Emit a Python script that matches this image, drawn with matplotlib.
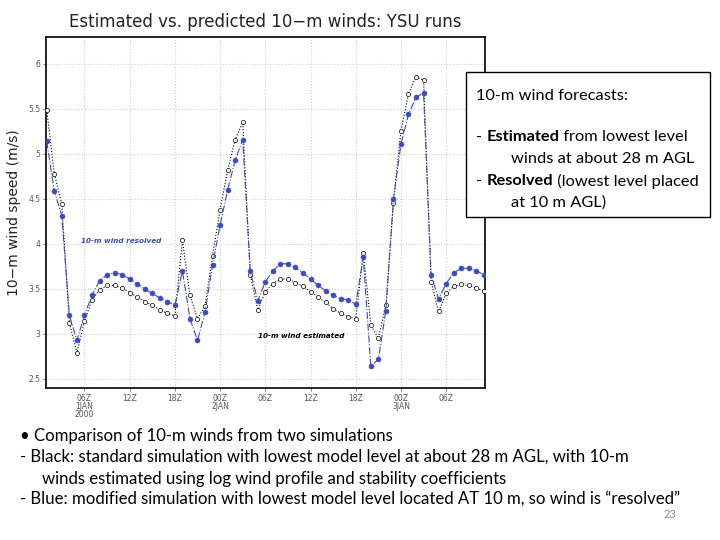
import matplotlib
matplotlib.use('Agg')
import matplotlib.pyplot as plt
from matplotlib.patches import Rectangle

# Données : vent à 10 m, une valeur par heure (heures depuis 00Z 1 JAN 2000)
hours = list(range(1, 60))
resolved = [5.14, 4.59, 4.31, 3.21, 2.93, 3.21, 3.43, 3.59, 3.66, 3.68,
            3.66, 3.61, 3.56, 3.50, 3.45, 3.40, 3.36, 3.32, 3.70, 3.17,
            2.93, 3.24, 3.77, 4.21, 4.60, 4.93, 5.16, 3.70, 3.37, 3.58,
            3.70, 3.78, 3.78, 3.74, 3.68, 3.61, 3.54, 3.48, 3.43, 3.39,
            3.38, 3.33, 3.85, 2.64, 2.72, 3.26, 4.50, 5.11, 5.44, 5.63,
            5.68, 3.65, 3.39, 3.56, 3.68, 3.73, 3.73, 3.70, 3.66]
estimated = [5.49, 4.78, 4.44, 3.12, 2.79, 3.14, 3.38, 3.49, 3.54, 3.54,
             3.51, 3.46, 3.41, 3.36, 3.32, 3.27, 3.23, 3.20, 4.04, 3.43,
             3.17, 3.31, 3.87, 4.38, 4.82, 5.16, 5.35, 3.66, 3.27, 3.47,
             3.56, 3.61, 3.61, 3.57, 3.53, 3.47, 3.41, 3.35, 3.28, 3.23,
             3.19, 3.17, 3.90, 3.10, 2.95, 3.32, 4.46, 5.26, 5.67, 5.86,
             5.82, 3.58, 3.25, 3.45, 3.53, 3.55, 3.54, 3.51, 3.48]

xtick_pos = [6, 12, 18, 24, 30, 36, 42, 48, 54]
xtick_labels = ['06Z\n1JAN\n2000', '12Z', '18Z', '00Z\n2JAN', '06Z', '12Z',
                '18Z', '00Z\n3JAN', '06Z']
ytick_pos = [2.5, 3, 3.5, 4, 4.5, 5, 5.5, 6]
ytick_labels = ['2.5', '3', '3.5', '4', '4.5', '5', '5.5', '6']

blue = '#3a4cc0'

fig = plt.figure(figsize=(7.2, 5.4), dpi=100)
ax = fig.add_axes([0.0639, 0.2815, 0.6097, 0.65])

ax.plot(hours, estimated, linestyle=':', color='black', linewidth=0.8,
        marker='o', markersize=3.0, markerfacecolor='white',
        markeredgecolor='black', markeredgewidth=0.5, zorder=3)
ax.plot(hours, resolved, linestyle='-.', color=blue, linewidth=0.8,
        marker='o', markersize=3.6, markerfacecolor=blue,
        markeredgecolor=blue, markeredgewidth=0.4, zorder=4)

ax.set_xlim(0.9, 59.15)
ax.set_ylim(2.4, 6.3)
ax.set_xticks(xtick_pos)
ax.set_xticklabels(xtick_labels, fontsize=5.5, color='#555555', linespacing=0.9)
ax.set_yticks(ytick_pos)
ax.set_yticklabels(ytick_labels, fontsize=5.5, color='#555555')
ax.tick_params(length=2, width=0.5, pad=2, colors='#555555')
ax.grid(True, linestyle=':', color='#d0d0d0', linewidth=0.8)
for s in ax.spines.values():
    s.set_linewidth(1.2)

ax.set_ylabel('10\u2212m wind speed (m/s)', fontsize=10, labelpad=5,
              color='#222222')

# étiquettes dans le graphique
ax.text(5.6, 4.03, '10-m wind resolved', color=blue, fontsize=5.2,
        style='italic', fontweight='bold', va='center', ha='left')
ax.text(29.0, 2.98, '10-m wind estimated', color='black', fontsize=5.2,
        style='italic', fontweight='bold', va='center', ha='left')

fig.text(265 / 720, 1 - 22 / 540,
         'Estimated vs. predicted 10\u2212m winds: YSU runs',
         fontsize=12, ha='center', va='center', color='#222222')

# encadré de légende
box = Rectangle((466 / 720, 1 - 217 / 540), 244 / 720, 145 / 540,
                transform=fig.transFigure, facecolor='white',
                edgecolor='black', linewidth=1.0, zorder=10)
fig.patches.append(box)

fam = ['Lato', 'DejaVu Sans']
fs_box = 11.8
renderer = fig.canvas.get_renderer()


def rich_line(x_px, y_px, parts, fs):
    # parts: liste de (texte, gras ?)
    x = x_px / 720
    for txt, bold in parts:
        t = fig.text(x, 1 - y_px / 540, txt, fontsize=fs, family=fam,
                     fontweight='bold' if bold else 'normal',
                     va='center', ha='left', zorder=11)
        bb = t.get_window_extent(renderer=renderer)
        x += bb.width / 720


rich_line(476, 96, [('10-m wind forecasts:', False)], fs_box)
rich_line(476, 137, [('- ', False), ('Estimated', True),
                     (' from lowest level', False)], fs_box)
rich_line(511, 159, [('winds at about 28 m AGL', False)], fs_box)
rich_line(476, 181, [('- ', False), ('Resolved', True),
                     (' (lowest level placed', False)], fs_box)
rich_line(511, 203, [('at 10 m AGL)', False)], fs_box)

# texte du bas
fs_bot = 12.1
rich_line(20, 436, [('\u2022 Comparison of 10-m winds from two simulations', False)], fs_bot)
rich_line(20, 457, [('- Black: standard simulation with lowest model level at about 28 m AGL, with 10-m', False)], fs_bot)
rich_line(42, 479, [('winds estimated using log wind profile and stability coefficients', False)], fs_bot)
rich_line(20, 499, [('- Blue: modified simulation with lowest model level located AT 10 m, so wind is \u201cresolved\u201d', False)], fs_bot)

fig.text(670 / 720, 1 - 515 / 540, '23', fontsize=8, family=fam,
         color='#888888', ha='center', va='center')

fig.savefig('out.png', dpi=100)
